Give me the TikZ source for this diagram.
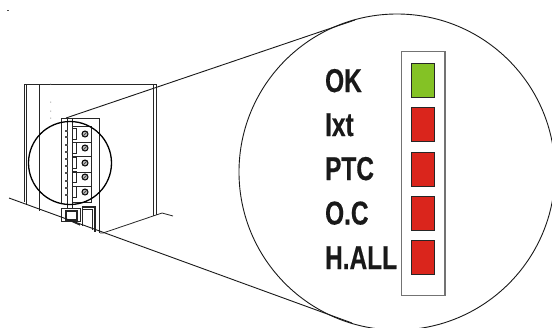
\documentclass[tikz,border=0pt]{standalone}
\usepackage{fontspec}
\setmainfont{Liberation Sans}
\newfontfamily\ledfont{Liberation Sans}[BoldFeatures={FakeBold=0.5}]
\definecolor{ledgreen}{HTML}{84C225}
\definecolor{ledred}{HTML}{DA251C}
\tikzset{
    thinline/.style={line width=0.8pt, black!85},
    ledbox/.style={draw=black!85, line width=1pt, minimum width=23pt, minimum height=34pt, inner sep=0pt},
    ledlabel/.style={anchor=base west, inner sep=0pt, xscale=0.74, transform shape, font=\ledfont\bfseries\fontsize{33}{33}\selectfont, text=black!90},
    pinmark/.style={fill=black!70, draw=none},
    screwmark/.style={draw=black, fill=black!25, line width=1pt, circle, minimum size=6pt, inner sep=0pt}
}

\begin{document}
\begin{tikzpicture}[x=1pt, y=-1pt]
        \useasboundingbox (0, 0) rectangle (552, 327);

        % Speck
        \draw[line width=0.8pt, black!70] (7, 10) -- (9, 10);

        % Cabinet
        \draw[thinline] (24, 202) -- (24, 84) -- (156, 84) -- (156, 215);
        \draw[thinline] (26, 204) -- (26, 85);
        \draw[thinline] (39.5, 84) -- (39.5, 211);
        \draw[thinline] (153, 84) -- (153, 216);
        \draw[thinline] (100, 233) -- (103, 233) -- (162, 213) -- (173, 216);
        \fill[black!50] (50.3, 83.5) rectangle (51.2, 84.5)
                        (50.3, 101.5) rectangle (51.2, 102.5)
                        (50.3, 110.5) rectangle (51.2, 111.5)
                        (50.3, 117.5) rectangle (51.2, 118.5);

        % Terminal panel
        \draw[thinline] (61, 204) -- (61, 118) -- (99, 118) -- (99, 233);
        \draw[thinline] (67.7, 118) -- (67.7, 208);
        \draw[thinline] (72.3, 118) -- (72.3, 208);
        \draw[thinline] (61, 208) -- (72.3, 208);
        \foreach \y in {131, 137, 145, 152, 159, 166, 173, 181, 188, 195} {
            \fill[pinmark] (65, \y-1) rectangle (67.7, \y+1);
        }

        % Terminals
        \draw[thinline] (72.3, 126) -- (91, 126) -- (91, 202) -- (72.3, 202);
        \foreach \y in {142, 156, 172, 186} {
            \draw[thinline] (72.3, \y) -- (91, \y);
        }
        \foreach \y/\n in {134/a, 148/b, 163/c, 177/d, 192/e} {
            \draw[thinline] (72.3, \y-6) rectangle (76, \y+5);
            \node[screwmark] (screw\n) at (85, \y) {};
            \draw[line width=0.9pt, black!70] (screw\n.south west) -- (screw\n.north east);
        }

        % Switch
        \draw[line width=1pt, black!85] (61, 208) rectangle (80, 221);
        \draw[line width=1.6pt, black!85] (66, 211) rectangle (77, 220);
        \draw[line width=1.2pt, black!85] (71, 221) -- (80, 225);

        % Door
        \draw[line width=1.2pt, black!85] (82, 207) -- (95, 207) -- (95, 232);
        \draw[thinline] (82, 209.5) -- (92.5, 209.5) -- (92.5, 230);
        \draw[thinline] (82, 207) -- (82, 226);

        % Small lens and big lens
        \node[draw=black, line width=1.3pt, circle, minimum size=83pt, inner sep=0pt] (lenssmall) at (70, 163) {};
        \node[draw=black!90, line width=0.9pt, circle, minimum size=316pt, inner sep=0pt] (lensbig) at (397, 172) {};

        % Zoom lines
        \coordinate (uppersmall) at (66, 118);
        \coordinate (upperbig) at (355, 20);
        \coordinate (lowersmall) at (9, 198);
        \coordinate (lowerbig) at (352, 323);
        \draw[line width=0.9pt, black!90] (uppersmall) -- (upperbig);
        \draw[line width=0.9pt, black!90] (lowersmall) -- (lowerbig);

        % LED strip
        \draw[draw=black!55, line width=1.1pt] (401.7, 51.7) rectangle (445, 295.7);
        \node[ledbox, fill=ledgreen] (ledok) at (422.8, 80.7) {};
        \node[ledbox, fill=ledred] (ledixt) at (422.8, 124.7) {};
        \node[ledbox, fill=ledred] (ledptc) at (422.8, 169.2) {};
        \node[ledbox, fill=ledred] (ledoc) at (422.8, 213.3) {};
        \node[ledbox, fill=ledred] (ledhall) at (422.8, 257.3) {};

        % LED labels
        \node[ledlabel] (labelok) at (325, 92) {OK};
        \node[ledlabel] (labelixt) at (325, 136) {Ixt};
        \node[ledlabel] (labelptc) at (325, 180) {PTC};
        \node[ledlabel] (labeloc) at (325, 224.5) {O.C};
        \node[ledlabel] (labelhall) at (325, 269) {H.ALL};

    \end{tikzpicture}
\end{document}
